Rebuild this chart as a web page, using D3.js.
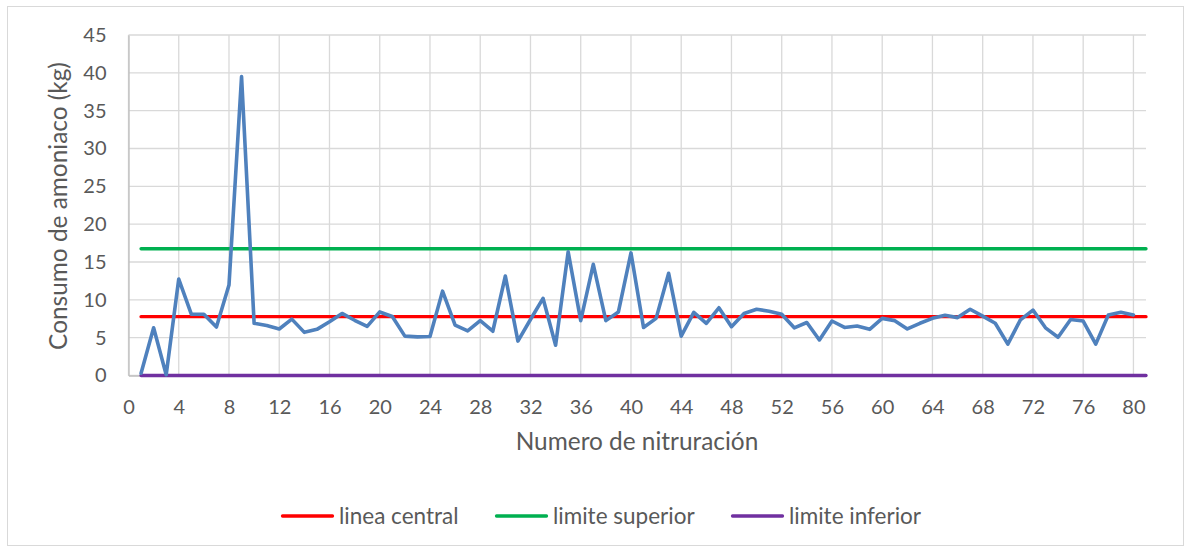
<!DOCTYPE html>
<html>
<head>
<meta charset="utf-8">
<script src="https://cdn.jsdelivr.net/npm/d3@7"></script>
<style>
  html, body { margin: 0; padding: 0; background: #fff; }
  svg { display: block; }
  text { font-family: Lato, "Open Sans", sans-serif; fill: #595959; }
</style>
</head>
<body>
<svg id="chart" width="1188" height="552"></svg>
<script>
// Ammonia consumption per nitriding run (kg), runs 1..80
const consumo = [
  0.3, 6.3, 0.1, 12.75, 8.1, 8.1, 6.4, 11.95, 39.5, 6.9,
  6.6, 6.15, 7.45, 5.7, 6.1, 7.1, 8.2, 7.3, 6.5, 8.4,
  7.8, 5.2, 5.1, 5.15, 11.15, 6.65, 5.9, 7.25, 5.85, 13.15,
  4.55, 7.4, 10.2, 4.0, 16.35, 7.25, 14.7, 7.25, 8.4, 16.2,
  6.35, 7.55, 13.5, 5.2, 8.35, 6.9, 8.95, 6.45, 8.2, 8.75,
  8.5, 8.1, 6.3, 7.0, 4.7, 7.2, 6.35, 6.55, 6.1, 7.55,
  7.25, 6.15, 6.9, 7.55, 7.95, 7.65, 8.75, 7.85, 6.9, 4.15,
  7.35, 8.65, 6.3, 5.05, 7.4, 7.2, 4.15, 8.0, 8.35, 8.0
];

// Control chart limits
const lineaCentral = 7.77;
const limiteSuperior = 16.75;
const limiteInferior = 0;
const limitRange = [1, 81];

const xTicks = d3.range(0, 81, 4);
const yTicks = d3.range(0, 46, 5);

const series = [
  { name: "linea central", value: lineaCentral, color: "#ff0000" },
  { name: "limite superior", value: limiteSuperior, color: "#00b050" },
  { name: "limite inferior", value: limiteInferior, color: "#7030a0" }
];

const svg = d3.select("#chart");
const plot = { left: 128.5, right: 1146, top: 35, bottom: 375.5 };

// outer chart frame
svg.append("rect")
  .attr("x", 7.5).attr("y", 6.5)
  .attr("width", 1176).attr("height", 539)
  .attr("fill", "#fff").attr("stroke", "#d9d9d9").attr("stroke-width", 1);

const x = d3.scaleLinear().domain([0, 81]).range([plot.left, plot.right]);
const y = d3.scaleLinear().domain([0, 45]).range([plot.bottom, plot.top]);

// gridlines
const grid = svg.append("g").attr("stroke", "#d9d9d9").attr("stroke-width", 1.3);
grid.selectAll("line.h").data(yTicks).join("line")
  .attr("x1", plot.left).attr("x2", plot.right)
  .attr("y1", d => y(d)).attr("y2", d => y(d));
grid.selectAll("line.v").data(xTicks).join("line")
  .attr("x1", d => x(d)).attr("x2", d => x(d))
  .attr("y1", plot.top).attr("y2", plot.bottom);

// axes (labels only, Excel-style)
const yAxis = svg.append("g")
  .attr("transform", `translate(${plot.left},0)`)
  .call(d3.axisLeft(y).tickValues(yTicks).tickSize(0).tickPadding(22));
yAxis.select(".domain").attr("stroke", "#bfbfbf").attr("stroke-width", 1.3);
yAxis.selectAll("text").attr("font-size", 20).style("font-family", "Lato, sans-serif").attr("fill", "#595959");

const xAxis = svg.append("g")
  .attr("transform", `translate(0,${plot.bottom})`)
  .call(d3.axisBottom(x).tickValues(xTicks).tickSize(0).tickPadding(24));
xAxis.select(".domain").attr("stroke", "#bfbfbf").attr("stroke-width", 1.3);
xAxis.selectAll("text").attr("font-size", 20).style("font-family", "Lato, sans-serif").attr("fill", "#595959");

// control limit lines
series.forEach(s => {
  svg.append("path")
    .datum(limitRange)
    .attr("fill", "none")
    .attr("stroke", s.color)
    .attr("stroke-width", 3.3)
    .attr("stroke-linecap", "round")
    .attr("d", d3.line().x(d => x(d)).y(() => y(s.value)));
});

// consumption series
svg.append("path")
  .datum(consumo)
  .attr("fill", "none")
  .attr("stroke", "#4f81bd")
  .attr("stroke-width", 3.6)
  .attr("stroke-linejoin", "round")
  .attr("stroke-linecap", "round")
  .attr("d", d3.line().x((d, i) => x(i + 1)).y(d => y(d)));

// axis titles
svg.append("text")
  .attr("x", 637).attr("y", 450)
  .attr("text-anchor", "middle")
  .attr("font-size", 24.4)
  .text("Numero de nitruración");

svg.append("text")
  .attr("transform", "translate(67,206) rotate(-90)")
  .attr("text-anchor", "middle")
  .attr("font-size", 24.4)
  .text("Consumo de amoniaco (kg)");

// legend
const legendX = [281, 495, 731];
const lg = svg.append("g");
series.forEach((s, i) => {
  const g = lg.append("g").attr("transform", `translate(${legendX[i]},516)`);
  g.append("line")
    .attr("x1", 1.5).attr("x2", 51.5).attr("y1", 0).attr("y2", 0)
    .attr("stroke", s.color).attr("stroke-width", 3.3).attr("stroke-linecap", "round");
  g.append("text")
    .attr("x", 58).attr("y", 8)
    .attr("font-size", 22.5)
    .text(s.name);
});
</script>
</body>
</html>
